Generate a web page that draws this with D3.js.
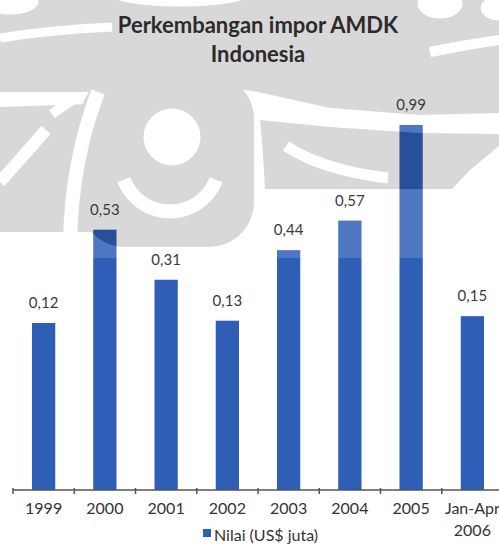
<!DOCTYPE html>
<html>
<head>
<meta charset="utf-8">
<script src="https://cdn.jsdelivr.net/npm/d3@7"></script>
<style>
  html, body { margin: 0; padding: 0; background: #fff; }
  svg { display: block; }
  text { font-family: Lato, "Open Sans", sans-serif; }
</style>
</head>
<body>
<script>
// Import of bottled drinking water (AMDK), Indonesia, value in US$ million
const categories = ["1999", "2000", "2001", "2002", "2003", "2004", "2005", "Jan-Apr 2006"];
const values = [0.12, 0.53, 0.31, 0.13, 0.44, 0.57, 0.99, 0.15];
const titleLines = ["Perkembangan impor AMDK", "Indonesia"];
const legendLabel = "Nilai (US$ juta)";
// value axis is not anchored at zero: its floor sits below the baseline
const valueFloor = -0.614;
const valueCeil = 0.99;

const W = 499, H = 544;
const barColor = "#2f5eb6";

const svg = d3.select("body").append("svg")
  .attr("width", W).attr("height", H);

const idFmt = d3.formatLocale({ decimal: ",", thousands: ".", grouping: [3], currency: ["US$", ""] });
const fmt = idFmt.format(".2f");

const x = d3.scaleBand()
  .domain(categories)
  .range([13, 503])
  .paddingInner(0.62)
  .paddingOuter(0.31);

const y = d3.scaleLinear()
  .domain([valueFloor, valueCeil])
  .range([490, 125]);

// ---- bars ----
svg.append("g").selectAll("rect")
  .data(values)
  .join("rect")
  .attr("x", (d, i) => x(categories[i]))
  .attr("width", x.bandwidth())
  .attr("y", d => y(d))
  .attr("height", d => y(valueFloor) - y(d))
  .attr("fill", barColor);

// ---- watermark emblem (translucent, laid over the plot) ----
const defs = svg.append("defs");

function emblemSolids(g) {
  // top band
  g.append("path").attr("d",
    "M0,0 L499,0 L499,113 L420,115 L330,108 L258,92 L232,88 L150,88 L100,92 L0,92 Z");
  // left wing
  g.append("path").attr("d", "M0,107 L88,104 L92,232 L0,232 Z");
  // central figure
  g.append("rect").attr("x", 80).attr("y", 74).attr("width", 174).attr("height", 173).attr("rx", 45);
  // right wing
  g.append("path").attr("d",
    "M260,120 L330,127 L420,133 L499,134 L499,146 L470,170 L452,189 L265,189 Q263,150 260,120 Z");
}

function emblemGaps(g) {
  g.append("ellipse").attr("cx", 10).attr("cy", 2).attr("rx", 28).attr("ry", 12);
  g.append("ellipse").attr("cx", 180).attr("cy", -6).attr("rx", 70).attr("ry", 12);
  g.append("ellipse").attr("cx", 440).attr("cy", 4).attr("rx", 22).attr("ry", 14);
  g.append("ellipse").attr("cx", 499).attr("cy", 8).attr("rx", 18).attr("ry", 12);
  g.append("path").attr("d", "M0,38 Q50,30 112,27").attr("fill", "none").attr("stroke-width", 9);
  g.append("path").attr("d", "M430,52 Q465,45 499,40").attr("fill", "none").attr("stroke-width", 10);
  g.append("path").attr("d", "M0,182 L46,130").attr("fill", "none").attr("stroke-width", 12);
  g.append("path").attr("d", "M52,114 L78,96").attr("fill", "none").attr("stroke-width", 10);
  g.append("path").attr("d", "M98,92 Q72,160 70,240").attr("fill", "none").attr("stroke-width", 14);
  g.append("path").attr("d", "M286,146 Q322,170 388,178").attr("fill", "none").attr("stroke-width", 11);
  // head and smile
  g.append("circle").attr("cx", 172).attr("cy", 137).attr("r", 28);
  g.append("path")
    .attr("d", d3.arc()({ innerRadius: 43, outerRadius: 56, startAngle: Math.PI * 0.62, endAngle: Math.PI * 1.38 }))
    .attr("transform", "translate(170,162)");
}

// mask for the darkened parts of the emblem
const maskDark = defs.append("mask").attr("id", "emblem-dark")
  .attr("maskUnits", "userSpaceOnUse").attr("x", 0).attr("y", 0).attr("width", W).attr("height", H);
maskDark.append("rect").attr("width", W).attr("height", H).attr("fill", "#000");
emblemSolids(maskDark.append("g").attr("fill", "#fff"));
emblemGaps(maskDark.append("g").attr("fill", "#000").attr("stroke", "#000"));

// mask for the lightened field around the emblem
const maskLight = defs.append("mask").attr("id", "emblem-light")
  .attr("maskUnits", "userSpaceOnUse").attr("x", 0).attr("y", 0).attr("width", W).attr("height", H);
maskLight.append("rect").attr("width", W).attr("height", 258).attr("fill", "#fff");
emblemSolids(maskLight.append("g").attr("fill", "#000"));
emblemGaps(maskLight.append("g").attr("fill", "#fff").attr("stroke", "#fff"));

svg.append("rect").attr("width", W).attr("height", H)
  .attr("fill", "#fff").attr("opacity", 0.15)
  .attr("mask", "url(#emblem-light)");
svg.append("rect").attr("width", W).attr("height", H)
  .attr("fill", "#000").attr("opacity", 0.15)
  .attr("mask", "url(#emblem-dark)");

// ---- value labels ----
svg.append("g").selectAll("text")
  .data(values)
  .join("text")
  .attr("x", (d, i) => x(categories[i]) + x.bandwidth() / 2)
  .attr("y", d => y(d) - 15)
  .attr("text-anchor", "middle")
  .attr("font-size", 15)
  .attr("fill", "#3a3a3a")
  .text(d => fmt(d));

// ---- category axis ----
const axisY = y(valueFloor);
const axis = svg.append("g");
axis.append("line")
  .attr("x1", x.range()[0]).attr("x2", W)
  .attr("y1", axisY).attr("y2", axisY)
  .attr("stroke", "#555").attr("stroke-width", 1.5);
axis.selectAll("line.tick")
  .data(categories)
  .join("line")
  .attr("class", "tick")
  .attr("x1", d => x(d) - x.step() * x.paddingInner() / 2)
  .attr("x2", d => x(d) - x.step() * x.paddingInner() / 2)
  .attr("y1", axisY - 2).attr("y2", axisY + 4)
  .attr("stroke", "#555").attr("stroke-width", 1.5);
axis.selectAll("text")
  .data(categories)
  .join("text")
  .attr("x", d => x(d) + x.bandwidth() / 2)
  .attr("y", axisY + 24)
  .attr("text-anchor", "middle")
  .attr("font-size", 16)
  .attr("fill", "#333")
  .each(function (d) {
    const parts = d.split(" ");
    d3.select(this).selectAll("tspan")
      .data(parts)
      .join("tspan")
      .attr("x", x(d) + x.bandwidth() / 2)
      .attr("dy", (p, j) => j === 0 ? 0 : 22)
      .text(p => p);
  });

// ---- title ----
svg.append("text")
  .attr("x", 258).attr("y", 33)
  .attr("text-anchor", "middle")
  .attr("font-size", 22).attr("font-weight", 700)
  .attr("fill", "#2b2b2b")
  .selectAll("tspan")
  .data(titleLines)
  .join("tspan")
  .attr("x", 258)
  .attr("dy", (d, i) => i === 0 ? 0 : 29)
  .text(d => d);

// ---- legend ----
const legend = svg.append("g").attr("transform", "translate(203,529)");
legend.append("rect").attr("width", 8).attr("height", 8).attr("fill", barColor);
legend.append("text")
  .attr("x", 11).attr("y", 12)
  .attr("font-size", 16).attr("fill", "#333")
  .text(legendLabel);
</script>
</body>
</html>
